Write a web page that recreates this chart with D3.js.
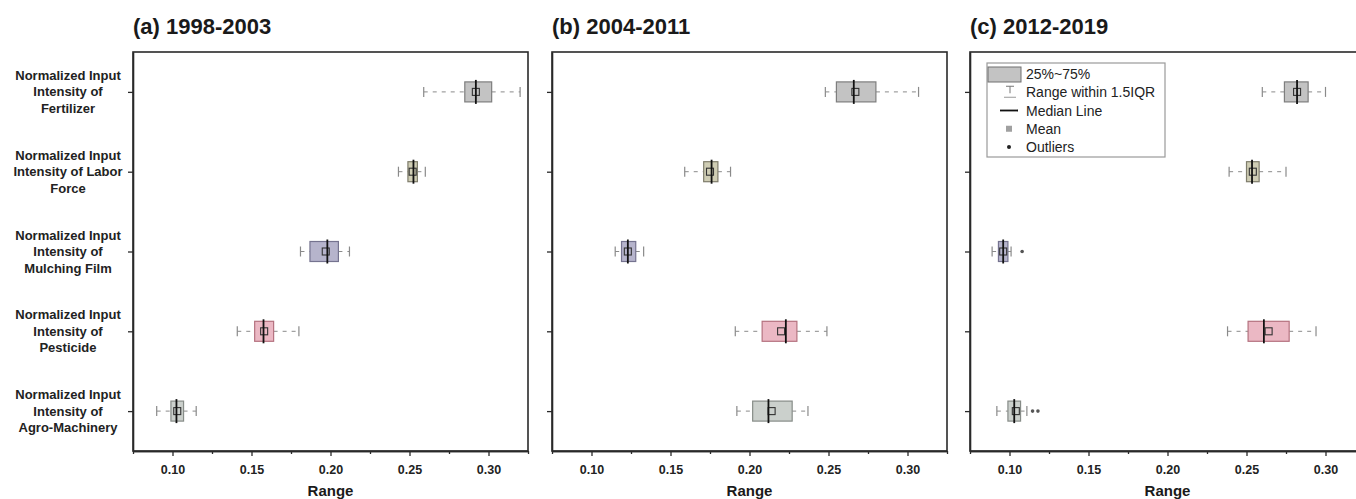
<!DOCTYPE html>
<html>
<head>
<meta charset="utf-8">
<script src="https://cdn.jsdelivr.net/npm/d3@7"></script>
<style>
    body { margin: 0; background: #fff; }
    text { font-family: "Liberation Sans", Arial, sans-serif; }
    .frame { fill: none; stroke: #2a2a2a; stroke-width: 1.6px; }
    .axis path { stroke: #2a2a2a; stroke-width: 1.6px; }
    .axis line { stroke: #2a2a2a; stroke-width: 1.3px; }
    .axis text { font-size: 12.5px; font-weight: bold; fill: #222; }
</style>
</head>
<body>
<script>
(function (){

    //chart data, one entry per category (top to bottom)
    var categories = ["Fertilizer", "Labor Force", "Mulching Film", "Pesticide", "Agro-Machinery"];
    var labelLines = [
        ["Normalized Input", "Intensity of", "Fertilizer"],
        ["Normalized Input", "Intensity of Labor", "Force"],
        ["Normalized Input", "Intensity of", "Mulching Film"],
        ["Normalized Input", "Intensity of", "Pesticide"],
        ["Normalized Input", "Intensity of", "Agro-Machinery"]
    ];
    var periods = ["(a) 1998-2003", "(b) 2004-2011", "(c) 2012-2019"];

    //box statistics per period
    var whiskerLow = [
        [0.259, 0.243, 0.181, 0.141, 0.090],
        [0.248, 0.159, 0.115, 0.191, 0.192],
        [0.260, 0.239, 0.089, 0.238, 0.092]
    ];
    var quart1 = [
        [0.285, 0.249, 0.187, 0.152, 0.099],
        [0.255, 0.171, 0.119, 0.208, 0.202],
        [0.274, 0.250, 0.093, 0.251, 0.099]
    ];
    var median = [
        [0.292, 0.2525, 0.198, 0.1576, 0.1025],
        [0.266, 0.176, 0.123, 0.223, 0.212],
        [0.282, 0.2535, 0.096, 0.261, 0.103]
    ];
    var quart3 = [
        [0.302, 0.255, 0.205, 0.164, 0.107],
        [0.280, 0.180, 0.128, 0.230, 0.227],
        [0.289, 0.258, 0.099, 0.277, 0.107]
    ];
    var whiskerHigh = [
        [0.320, 0.260, 0.212, 0.180, 0.115],
        [0.307, 0.188, 0.133, 0.249, 0.237],
        [0.300, 0.275, 0.101, 0.294, 0.111]
    ];
    var means = [
        [0.292, 0.252, 0.197, 0.158, 0.103],
        [0.267, 0.175, 0.123, 0.220, 0.214],
        [0.282, 0.254, 0.096, 0.264, 0.104]
    ];
    //outliers as [category index, value]
    var outliers = [
        [],
        [],
        [[2, 0.108], [4, 0.1146], [4, 0.118]]
    ];

    var majorTicks = [0.10, 0.15, 0.20, 0.25, 0.30];
    var minorTicks = [0.075, 0.125, 0.175, 0.225, 0.275, 0.325];
    var legendLabels = ["25%~75%", "Range within 1.5IQR", "Median Line", "Mean", "Outliers"];

    //box colours per category
    var fills = ["#c3c3c3", "#cfcdb4", "#b6b4cc", "#ebb8c4", "#cbd0cc"];
    var strokes = ["#7e7e7e", "#7f7d6c", "#75738f", "#b4727f", "#878c88"];

    window.onload = setChart();

    function setChart(){
        var width = 1356,
            height = 499,
            panelLeft = [133, 552, 970],
            panelWidth = 395,
            panelTop = 52,
            panelHeight = 399;

        var svg = d3.select("body")
            .append("svg")
            .attr("width", width)
            .attr("height", height);

        //shared scales
        var x = d3.scaleLinear()
            .domain([0.075, 0.325])
            .range([0, panelWidth]);

        var y = d3.scalePoint()
            .domain(categories)
            .range([0, panelHeight])
            .padding(0.5);

        for (var p=0; p<periods.length; p++){
            drawPanel(svg, p, panelLeft[p], panelTop, panelWidth, panelHeight, x, y);
        };

        //category labels on the left of the first panel
        var labels = svg.append("g")
            .attr("transform", "translate(68," + panelTop + ")");
        categories.forEach(function(c, i){
            var t = labels.append("text")
                .attr("text-anchor", "middle")
                .style("font-size", "13px")
                .style("font-weight", "bold")
                .style("fill", "#222");
            labelLines[i].forEach(function(line, j){
                t.append("tspan")
                    .attr("x", 0)
                    .attr("y", y(c) + (j - 1) * 16.5 + 4.5)
                    .text(line);
            });
        });

        setLegend(svg);
    };

    function drawPanel(svg, p, left, top, w, h, x, y){
        var g = svg.append("g")
            .attr("transform", "translate(" + left + "," + top + ")");

        //panel title
        svg.append("text")
            .attr("x", left)
            .attr("y", 34)
            .style("font-size", "22px")
            .style("font-weight", "bold")
            .style("fill", "#1a1a1a")
            .text(periods[p]);

        var boxH = 20,
            capH = 10;

        var rows = g.selectAll(".row")
            .data(categories)
            .enter()
            .append("g")
            .attr("class", "row")
            .attr("transform", function(d){ return "translate(0," + y(d) + ")"; });

        //dashed whiskers
        rows.append("line")
            .attr("x1", function(d, i){ return x(whiskerLow[p][i]); })
            .attr("x2", function(d, i){ return x(quart1[p][i]); })
            .attr("stroke", "#8a8a8a")
            .attr("stroke-dasharray", "4,5");
        rows.append("line")
            .attr("x1", function(d, i){ return x(quart3[p][i]); })
            .attr("x2", function(d, i){ return x(whiskerHigh[p][i]); })
            .attr("stroke", "#8a8a8a")
            .attr("stroke-dasharray", "4,5");

        //whisker caps
        [whiskerLow, whiskerHigh].forEach(function(arr){
            rows.append("line")
                .attr("x1", function(d, i){ return x(arr[p][i]); })
                .attr("x2", function(d, i){ return x(arr[p][i]); })
                .attr("y1", -capH / 2)
                .attr("y2", capH / 2)
                .attr("stroke", "#8a8a8a")
                .attr("stroke-width", 1.2);
        });

        //boxes
        rows.append("rect")
            .attr("x", function(d, i){ return x(quart1[p][i]); })
            .attr("y", -boxH / 2)
            .attr("width", function(d, i){ return x(quart3[p][i]) - x(quart1[p][i]); })
            .attr("height", boxH)
            .style("fill", function(d, i){ return fills[i]; })
            .style("stroke", function(d, i){ return strokes[i]; })
            .style("stroke-width", 1.2);

        //mean markers
        rows.append("rect")
            .attr("x", function(d, i){ return x(means[p][i]) - 3.5; })
            .attr("y", -3.5)
            .attr("width", 7)
            .attr("height", 7)
            .style("fill", "none")
            .style("stroke", "#333")
            .style("stroke-width", 1.1);

        //median lines
        rows.append("line")
            .attr("x1", function(d, i){ return x(median[p][i]); })
            .attr("x2", function(d, i){ return x(median[p][i]); })
            .attr("y1", -boxH / 2 - 2)
            .attr("y2", boxH / 2 + 2)
            .attr("stroke", "#111")
            .attr("stroke-width", 1.8);

        //outliers
        g.selectAll(".outlier")
            .data(outliers[p])
            .enter()
            .append("circle")
            .attr("class", "outlier")
            .attr("cx", function(d){ return x(d[1]); })
            .attr("cy", function(d){ return y(categories[d[0]]); })
            .attr("r", 1.8)
            .style("fill", "#555");

        //x axis, major and minor ticks
        g.append("g")
            .attr("class", "axis")
            .attr("transform", "translate(0," + h + ")")
            .call(d3.axisBottom(x).tickValues(majorTicks).tickFormat(d3.format(".2f")).tickSize(5).tickSizeOuter(0).tickPadding(9));
        g.append("g")
            .attr("class", "axis")
            .attr("transform", "translate(0," + h + ")")
            .call(d3.axisBottom(x).tickValues(minorTicks).tickFormat("").tickSize(3).tickSizeOuter(0));

        //y axis ticks
        g.append("g")
            .attr("class", "axis")
            .call(d3.axisLeft(y).tickFormat("").tickSize(5).tickSizeOuter(0));

        //frame
        g.append("rect")
            .attr("class", "frame")
            .attr("width", w)
            .attr("height", h);

        //x axis title
        g.append("text")
            .attr("x", w / 2)
            .attr("y", h + 45)
            .attr("text-anchor", "middle")
            .style("font-size", "15px")
            .style("font-weight", "bold")
            .style("fill", "#1a1a1a")
            .text("Range");
    };

    function setLegend(svg){
        var lg = svg.append("g")
            .attr("transform", "translate(987,63)");

        lg.append("rect")
            .attr("width", 178)
            .attr("height", 94)
            .style("fill", "#fff")
            .style("stroke", "#9a9a9a")
            .style("stroke-width", 1.2);

        var rowY = d3.scalePoint()
            .domain(legendLabels)
            .range([11, 84]);

        lg.selectAll(".legendText")
            .data(legendLabels)
            .enter()
            .append("text")
            .attr("class", "legendText")
            .attr("x", 39)
            .attr("y", function(d){ return rowY(d) + 5; })
            .style("font-size", "14px")
            .style("fill", "#222")
            .text(function(d){ return d; });

        //box swatch
        lg.append("rect")
            .attr("x", 1)
            .attr("y", rowY(legendLabels[0]) - 7)
            .attr("width", 33)
            .attr("height", 15)
            .style("fill", "#c3c3c3")
            .style("stroke", "#707070");

        //whisker symbol
        var wy = rowY(legendLabels[1]);
        lg.append("line").attr("x1", 19).attr("x2", 27).attr("y1", wy - 6).attr("y2", wy - 6).attr("stroke", "#777");
        lg.append("line").attr("x1", 23).attr("x2", 23).attr("y1", wy - 6).attr("y2", wy + 1).attr("stroke", "#777");
        lg.append("line").attr("x1", 17).attr("x2", 29).attr("y1", wy + 5).attr("y2", wy + 5).attr("stroke", "#999");

        //median symbol
        var my = rowY(legendLabels[2]);
        lg.append("line").attr("x1", 13).attr("x2", 31).attr("y1", my).attr("y2", my).attr("stroke", "#111").attr("stroke-width", 1.8);

        //mean symbol
        var ay = rowY(legendLabels[3]);
        lg.append("rect").attr("x", 19).attr("y", ay - 3).attr("width", 6).attr("height", 6).style("fill", "#a0a0a0");

        //outlier symbol
        var oy = rowY(legendLabels[4]);
        lg.append("circle").attr("cx", 22).attr("cy", oy).attr("r", 2).style("fill", "#222");
    };

})();
</script>
</body>
</html>
